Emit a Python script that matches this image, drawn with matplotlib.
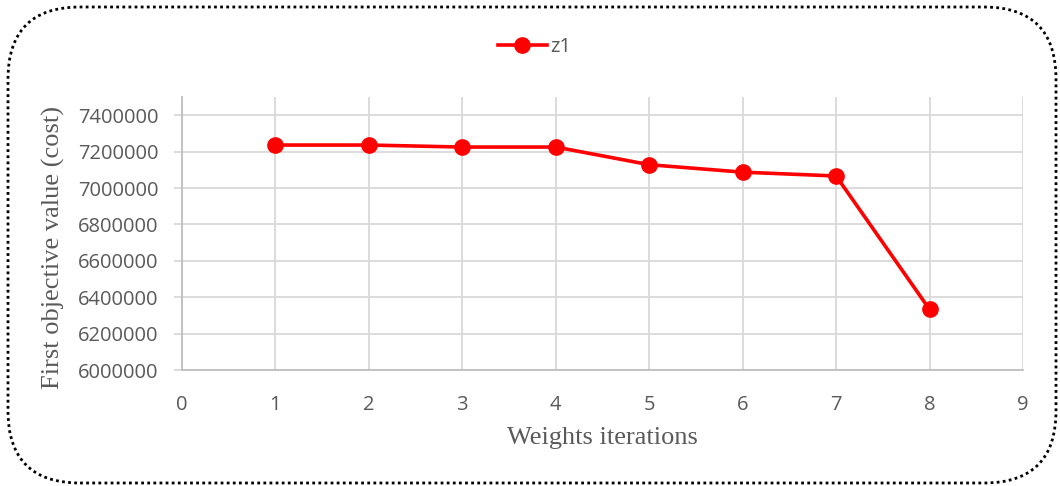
import matplotlib.pyplot as plt
from matplotlib.patches import FancyBboxPatch

# data
iterations = [1, 2, 3, 4, 5, 6, 7, 8]
z1 = [7236000, 7236000, 7225000, 7225000, 7128000, 7087000, 7066000, 6333000]
y_ticks = [6000000, 6200000, 6400000, 6600000, 6800000, 7000000, 7200000, 7400000]
x_ticks = [0, 1, 2, 3, 4, 5, 6, 7, 8, 9]

grey = '#595959'
grid_col = '#d9d9d9'

fig = plt.figure(figsize=(10.6, 4.86), dpi=100)
ax = fig.add_axes([182 / 1060, 1 - 370 / 486, (1023 - 182) / 1060, (370 - 97) / 486])

ax.plot(iterations, z1, color='#ff0000', lw=2.6, marker='o', ms=11, label='z1', zorder=3)

ax.set_xlim(0, 9)
ax.set_ylim(6000000, 7500000)
ax.set_xticks(x_ticks)
ax.set_yticks(y_ticks)
ax.set_yticklabels([str(v) for v in y_ticks])
ax.grid(True, color=grid_col, lw=1.3)
ax.set_axisbelow(True)

for s in ['top', 'right']:
    ax.spines[s].set_visible(False)
ax.spines['left'].set_color('#bfbfbf')
ax.spines['bottom'].set_color('#bfbfbf')
ax.spines['left'].set_linewidth(1.3)
ax.spines['bottom'].set_linewidth(1.3)
ax.tick_params(axis='x', length=0, pad=18, labelsize=14.5, labelcolor=grey)
ax.tick_params(axis='y', length=5.8, width=1.3, color=grid_col, pad=11, labelsize=14.5, labelcolor=grey)
for lab in ax.get_xticklabels() + ax.get_yticklabels():
    lab.set_fontfamily('Open Sans')

ax.set_xlabel('Weights iterations', fontfamily='Liberation Serif', fontsize=19, color=grey)
ax.set_ylabel('First objective value (cost)', fontfamily='Liberation Serif', fontsize=19, color=grey)
ax.xaxis.set_label_coords(0.5, -0.249)
ax.yaxis.set_label_coords(-0.153, 0.447)
ax.xaxis.label.set_va('center')
ax.yaxis.label.set_va('center')

leg = ax.legend(loc='center', bbox_to_anchor=(535 / 1060, 1 - 47 / 486), bbox_transform=fig.transFigure,
                frameon=False, prop={'family': 'Open Sans', 'size': 14.5}, handlelength=2.4, handletextpad=0.2)
for t in leg.get_texts():
    t.set_color(grey)

# dotted rounded border around the chart
border = FancyBboxPatch((8 / 1060, 3 / 486), 1048 / 1060, 476 / 486,
                        boxstyle='round,pad=0,rounding_size=0.068', transform=fig.transFigure,
                        facecolor='none', edgecolor='black', lw=2.0, linestyle=(0, (1, 1.2)),
                        mutation_aspect=1060 / 486)
fig.patches.append(border)

fig.savefig('out.png', dpi=100)
